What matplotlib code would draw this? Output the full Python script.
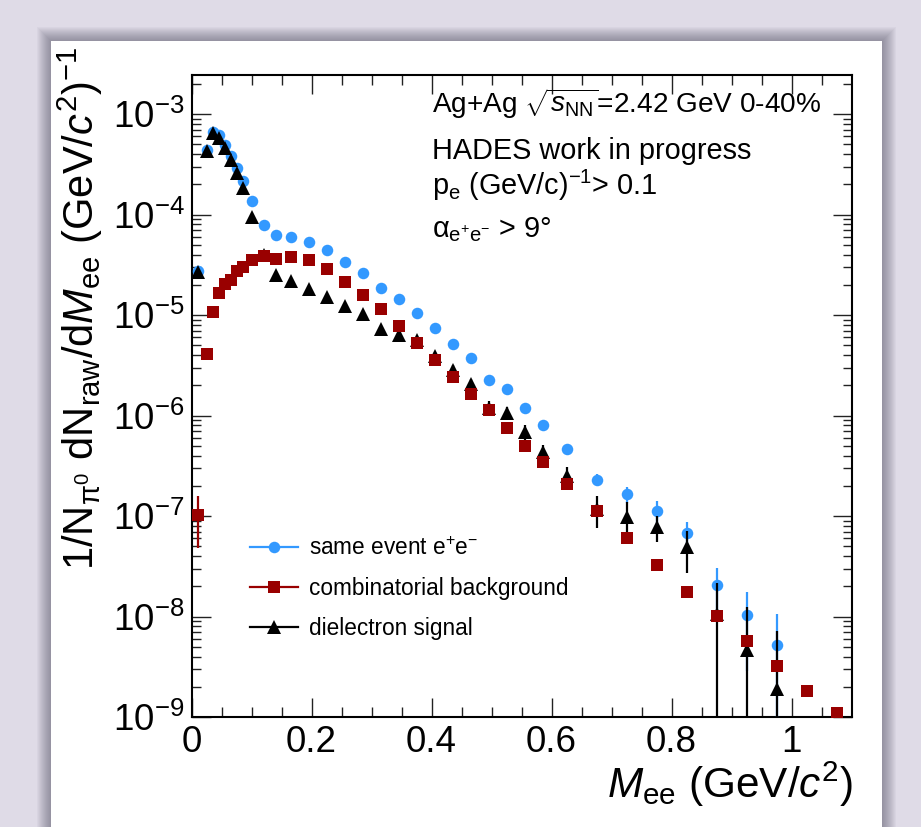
import matplotlib
matplotlib.use('Agg')
import matplotlib.pyplot as plt
from matplotlib.lines import Line2D
from matplotlib.patches import Rectangle
from matplotlib.ticker import FixedLocator, NullFormatter, FuncFormatter, LogFormatterSciNotation

plt.rcParams['font.family'] = ['Liberation Sans', 'DejaVu Sans']
plt.rcParams['mathtext.fontset'] = 'custom'
plt.rcParams['mathtext.rm'] = 'Liberation Sans'
plt.rcParams['mathtext.it'] = 'Liberation Sans:italic'
plt.rcParams['mathtext.bf'] = 'Liberation Sans:bold'
plt.rcParams['mathtext.sf'] = 'Liberation Sans'

# ---------------- data ----------------
mass = [0.01, 0.025, 0.035, 0.045, 0.055, 0.065, 0.075, 0.085, 0.1, 0.12,
        0.14, 0.165, 0.195, 0.225, 0.255, 0.285, 0.315, 0.345, 0.375, 0.405,
        0.435, 0.465, 0.495, 0.525, 0.555, 0.585, 0.625, 0.675, 0.725, 0.775,
        0.825, 0.875, 0.925, 0.975, 1.025, 1.075]

same_event = [2.75e-5, 4.4e-4, 6.7e-4, 6.2e-4, 4.9e-4, 3.85e-4, 2.9e-4, 2.15e-4, 1.35e-4, 7.9e-5,
              6.3e-5, 6.0e-5, 5.3e-5, 4.4e-5, 3.4e-5, 2.65e-5, 1.87e-5, 1.44e-5, 1.06e-5, 7.5e-6,
              5.2e-6, 3.7e-6, 2.25e-6, 1.82e-6, 1.2e-6, 8.0e-7, 4.6e-7, 2.3e-7, 1.64e-7, 1.13e-7,
              6.8e-8, 2.06e-8, 1.03e-8, 5.2e-9]
same_event_err = [0, 0, 0, 0, 0, 0, 0, 0, 0, 0,
                  0, 0, 0, 0, 0, 0, 0, 0, 0, 0,
                  0, 0, 0, 5e-8, 4e-8, 3.5e-8, 2.5e-8, 3.3e-8, 3.0e-8, 2.7e-8,
                  2.0e-8, 1.0e-8, 7.4e-9, 5.4e-9]

background = [1.03e-7, 4.1e-6, 1.08e-5, 1.64e-5, 2.05e-5, 2.25e-5, 2.75e-5, 3.0e-5, 3.55e-5, 3.9e-5,
              3.65e-5, 3.75e-5, 3.5e-5, 2.9e-5, 2.15e-5, 1.6e-5, 1.15e-5, 7.8e-6, 5.3e-6, 3.55e-6,
              2.43e-6, 1.63e-6, 1.13e-6, 7.5e-7, 5.0e-7, 3.45e-7, 2.1e-7, 1.11e-7, 6.0e-8, 3.25e-8,
              1.77e-8, 1.02e-8, 5.7e-9, 3.25e-9, 1.82e-9, 1.1e-9]
background_err = [5.5e-8] + [0] * 35

signal = [2.7e-5, 4.25e-4, 6.45e-4, 5.8e-4, 4.65e-4, 3.5e-4, 2.58e-4, 1.83e-4, 9.5e-5, 3.95e-5,
          2.5e-5, 2.2e-5, 1.8e-5, 1.5e-5, 1.22e-5, 1.02e-5, 7.35e-6, 6.3e-6, 5.6e-6, 3.95e-6,
          2.85e-6, 2.05e-6, 1.2e-6, 1.07e-6, 6.9e-7, 4.35e-7, 2.5e-7, 1.18e-7, 9.8e-8, 7.8e-8,
          4.9e-8, 1.05e-8, 4.6e-9, 1.9e-9]
signal_err = [0, 0, 0, 0, 0, 0, 0, 0, 0, 0,
              0, 0, 0, 0, 0, 0, 0, 0, 0, 3e-7,
              3.5e-7, 2.5e-7, 2e-7, 1.6e-7, 1.2e-7, 8e-8, 5.5e-8, 4.2e-8, 4.0e-8, 2.3e-8,
              2.2e-8, 1.1e-8, 7.8e-9, 5.3e-9]

labels = ['same event e$^{+}$e$^{-}$', 'combinatorial background', 'dielectron signal']
colors = ['#3399FF', '#990000', '#000000']

x_major = [0, 0.2, 0.4, 0.6, 0.8, 1.0]
x_minor = [0.05, 0.1, 0.15, 0.25, 0.3, 0.35, 0.45, 0.5, 0.55, 0.65, 0.7, 0.75,
           0.85, 0.9, 0.95, 1.05]
y_major = [1e-9, 1e-8, 1e-7, 1e-6, 1e-5, 1e-4, 1e-3]

# ---------------- figure ----------------
W, H = 921, 827
fig = plt.figure(figsize=(W / 100, H / 100), dpi=100, facecolor='#DFDBE7')

# panel with shadow
px0, px1, py0, py1 = 51, 882, 41, 860
for k in range(14, 0, -1):
    fig.patches.append(Rectangle(((px0 - k) / W, 1 - py1 / H), (px1 - px0 + 2 * k) / W,
                                 (py1 - py0 + k) / H, transform=fig.transFigure,
                                 facecolor='#404050', alpha=0.04, edgecolor='none', zorder=-3))
fig.patches.append(Rectangle((px0 / W, 1 - py1 / H), (px1 - px0) / W, (py1 - py0) / H,
                             transform=fig.transFigure, facecolor='white', edgecolor='none', zorder=-2))

ax = fig.add_axes([191.5 / W, 1 - 717 / H, 660 / W, 642 / H])
ax.set_yscale('log')
ax.set_xlim(0, 1.1)
ax.set_ylim(1e-9, 2.45e-3)

ms_c, ms_s, ms_t = 8.3, 8.4, 10.3
n1 = len(same_event)
n3 = len(signal)
eb_kw = dict(linestyle='none', capsize=0, elinewidth=1.6)
ax.errorbar(mass[:n1], same_event, yerr=same_event_err, fmt='o', color=colors[0],
            markersize=ms_c, markeredgewidth=0, zorder=3, **eb_kw)
ax.errorbar(mass[:n3], signal, yerr=signal_err, fmt='^', color=colors[2],
            markersize=ms_t, markeredgewidth=0, zorder=4, **eb_kw)
ax.errorbar(mass, background, yerr=background_err, fmt='s', color=colors[1],
            markersize=ms_s, markeredgewidth=0, zorder=5, **eb_kw)

# axes styling
for s in ax.spines.values():
    s.set_linewidth(1.5)
ax.xaxis.set_major_locator(FixedLocator(x_major))
ax.xaxis.set_minor_locator(FixedLocator(x_minor))
ax.xaxis.set_major_formatter(FuncFormatter(lambda v, p: '%g' % round(v, 3)))
y_minor = [m * d for d in y_major[:-1] for m in range(2, 10)] + [2e-3]
ax.yaxis.set_major_locator(FixedLocator(y_major))
ax.yaxis.set_minor_locator(FixedLocator(y_minor))
ax.yaxis.set_minor_formatter(NullFormatter())
ax.yaxis.set_major_formatter(LogFormatterSciNotation())
ax.tick_params(which='both', direction='in', top=True, right=True, width=1.0, color='#222222')
ax.tick_params(which='major', axis='x', length=14, labelsize=26.5, pad=5.5)
ax.tick_params(which='minor', axis='x', length=7)
ax.tick_params(which='major', axis='y', length=14, labelsize=26.5, pad=5)
ax.tick_params(which='minor', axis='y', length=6.5)

ax.set_xlabel(r'$M_{\mathrm{ee}}\ (\mathrm{GeV}/c^{2})$', fontsize=30.5, ha='right', va='top')
ax.xaxis.set_label_coords(1.002, -0.066)
ax.set_ylabel(r'$1/\mathrm{N}_{\mathrm{\pi}^{0}}\ \mathrm{dN}_{\mathrm{raw}}/\mathrm{d}M_{\mathrm{ee}}\ (\mathrm{GeV}/c^{2})^{-1}$',
              fontsize=30, ha='center', va='center', rotation_mode='anchor')
ax.yaxis.set_label_coords(-0.169, 0.637)

# annotation
tx = (432 - 191.5) / 660
def ypos(py):
    return (717 - py) / 642
fs_txt = 20.8
ax.text(tx, ypos(113), r'Ag+Ag $\sqrt{s_{\mathrm{NN}}}$=2.42 GeV 0-40%', transform=ax.transAxes,
        fontsize=20.2, va='baseline', ha='left')
ax.text(tx, ypos(159), 'HADES work in progress', transform=ax.transAxes,
        fontsize=fs_txt, va='baseline', ha='left')
ax.text(tx, ypos(195), r'p$_{\mathrm{e}}$ (GeV/c)$^{-1}$> 0.1', transform=ax.transAxes,
        fontsize=fs_txt, va='baseline', ha='left')
ax.text(tx, ypos(237), r'$\mathrm{\alpha}_{\mathrm{e^{+}e^{-}}}$ > 9°', transform=ax.transAxes,
        fontsize=fs_txt, va='baseline', ha='left')

# legend
handles = [Line2D([], [], color=colors[0], marker='o', markersize=ms_c, lw=1.6, markeredgewidth=0),
           Line2D([], [], color=colors[1], marker='s', markersize=ms_s, lw=1.6, markeredgewidth=0),
           Line2D([], [], color=colors[2], marker='^', markersize=ms_t, lw=1.6, markeredgewidth=0)]
ax.legend(handles, labels, loc='upper left', bbox_to_anchor=((250 - 191.5) / 660, ypos(537)),
          frameon=False, fontsize=16.3, handlelength=2.1, handletextpad=0.5,
          labelspacing=0.74, borderpad=0, borderaxespad=0)

fig.savefig('out.png', dpi=100, facecolor=fig.get_facecolor())
